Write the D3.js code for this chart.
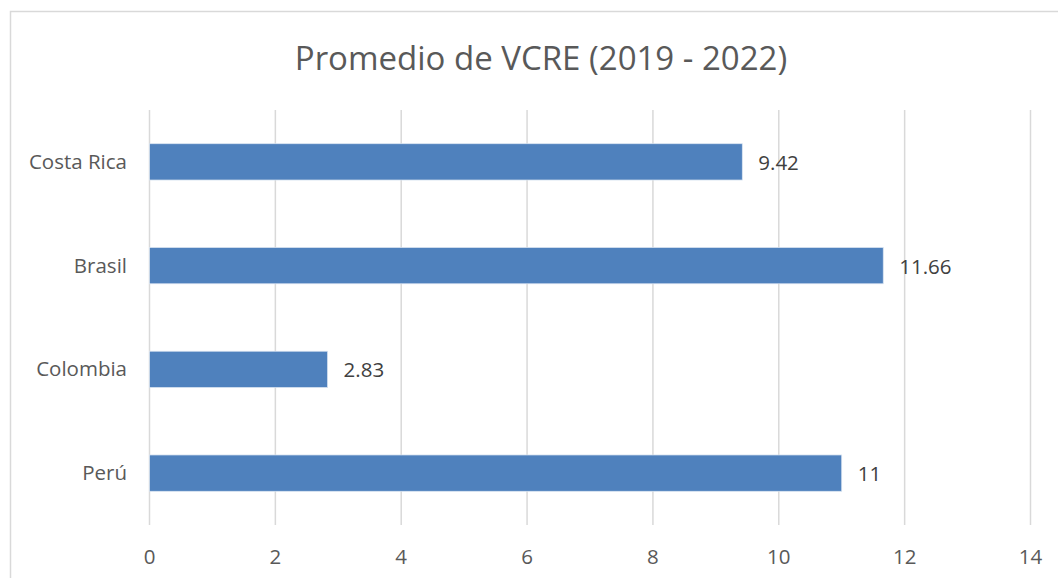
<!DOCTYPE html>
<html>
<head>
<meta charset="utf-8">
<script src="https://cdnjs.cloudflare.com/ajax/libs/d3/7.8.5/d3.min.js"></script>
<style>
  body { margin: 0; background: #fff; }
  svg text { font-family: "Open Sans", "Noto Sans", sans-serif; }
</style>
</head>
<body>
<svg id="chart" width="1058" height="578"></svg>
<script>
// data
var countries = ['Costa Rica', 'Brasil', 'Colombia', 'Perú'];
var values = [9.42, 11.66, 2.83, 11];
var labels = ['9.42', '11.66', '2.83', '11'];
var xTicks = [0, 2, 4, 6, 8, 10, 12, 14];

var svg = d3.select('#chart');
var margin = {left: 149.5, right: 1030.5, top: 110, bottom: 525};

// chart border
svg.append('rect')
    .attr('x', 10.5).attr('y', 11.5)
    .attr('width', 1060).attr('height', 600)
    .attr('fill', 'none').attr('stroke', '#d9d9d9').attr('stroke-width', 1.5);

svg.append('text')
    .attr('x', 541).attr('y', 70)
    .attr('text-anchor', 'middle')
    .attr('font-size', 33)
    .attr('fill', '#595959')
    .text('Promedio de VCRE (2019 - 2022)');

var x = d3.scaleLinear().domain([0, 14]).range([margin.left, margin.right]);
var y = d3.scaleBand().domain(countries).range([margin.top, margin.bottom]).paddingInner(0.65).paddingOuter(0.325);

// gridlines
svg.append('g').selectAll('line').data(xTicks).enter().append('line')
    .attr('x1', function(d) { return x(d); })
    .attr('x2', function(d) { return x(d); })
    .attr('y1', margin.top).attr('y2', margin.bottom)
    .attr('stroke', '#d9d9d9').attr('stroke-width', 1.5);

// x tick labels
svg.append('g').selectAll('text').data(xTicks).enter().append('text')
    .attr('x', function(d) { return x(d); })
    .attr('y', 564)
    .attr('text-anchor', 'middle')
    .attr('font-size', 20.5)
    .attr('fill', '#595959')
    .text(function(d) { return d; });

// category labels
svg.append('g').selectAll('text').data(countries).enter().append('text')
    .attr('x', 127)
    .attr('y', function(d) { return y(d) + y.bandwidth() / 2 + 7; })
    .attr('text-anchor', 'end')
    .attr('font-size', 20.5)
    .attr('fill', '#595959')
    .text(function(d) { return d; });

// bars
svg.append('g').selectAll('rect').data(values).enter().append('rect')
    .attr('x', x(0))
    .attr('y', function(d, i) { return y(countries[i]); })
    .attr('width', function(d) { return x(d) - x(0); })
    .attr('height', y.bandwidth())
    .attr('fill', '#4f81bd')
    .attr('stroke', '#dbe5f1').attr('stroke-width', 0.75);

// value labels
svg.append('g').selectAll('text').data(values).enter().append('text')
    .attr('x', function(d) { return x(d) + 16; })
    .attr('y', function(d, i) { return y(countries[i]) + y.bandwidth() / 2 + 8; })
    .attr('font-size', 20.5)
    .attr('fill', '#404040')
    .text(function(d, i) { return labels[i]; });
</script>
</body>
</html>
